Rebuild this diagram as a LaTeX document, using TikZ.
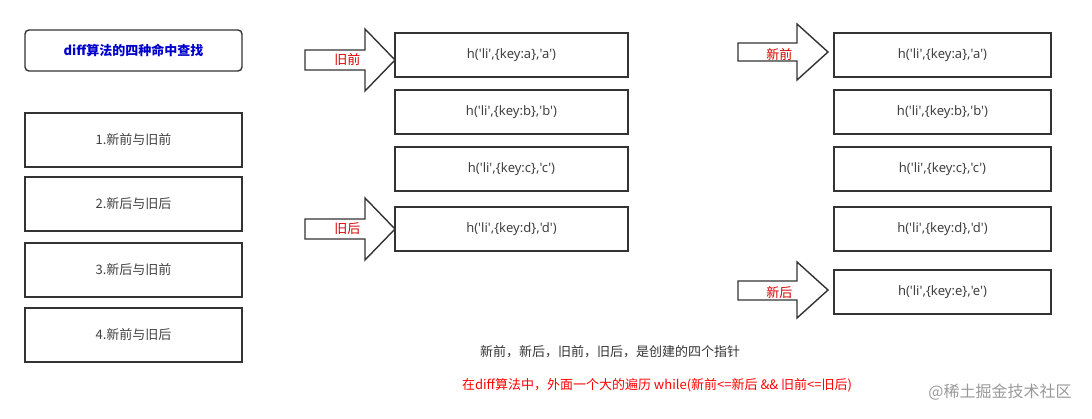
\documentclass[tikz,border=0pt]{standalone}
\usepackage{fontspec}
\setmainfont{Noto Sans CJK SC}
\newfontfamily\latinf{Noto Sans}
\newcommand{\qq}{{\latinf\char"27}}
\newcommand{\hli}[1]{{\latinf h(\qq li\qq,\{key:#1\},\qq #1\qq)}}
\begin{document}
\begin{tikzpicture}[x=1pt,y=-1pt,
  box/.style={draw=black!80,line width=1.4pt,minimum height=44pt,inner sep=0pt,font=\fontsize{13}{15}\selectfont,text=black!75},
  lbox/.style={box,minimum width=217pt,minimum height=54pt},
  mbox/.style={box,minimum width=233pt},
  rbox/.style={box,minimum width=217pt},
  arr/.style={draw=black!80,line width=1.4pt,fill=white},
  albl/.style={font=\fontsize{13}{15}\selectfont,text=red!85!black}]
\useasboundingbox (0,0) rectangle (1092,419);
\node[box,rounded corners=4pt,minimum width=217pt,minimum height=41pt,text=blue!80!black,font=\bfseries\fontsize{13}{15}\selectfont] (t) at (133.5,50.5) {diff算法的四种命中查找};
\node[lbox] (l1) at (133.5,140) {1.新前与旧前};
\node[lbox] (l2) at (133.5,204) {2.新后与旧后};
\node[lbox] (l3) at (133.5,270) {3.新后与旧前};
\node[lbox] (l4) at (133.5,335) {4.新前与旧后};
\node[mbox] (m1) at (511.5,55) {\hli{a}};
\node[mbox] (m2) at (511.5,112) {\hli{b}};
\node[mbox] (m3) at (511.5,169) {\hli{c}};
\node[mbox] (m4) at (511.5,229) {\hli{d}};
\node[rbox] (r1) at (942.5,55) {\hli{a}};
\node[rbox] (r2) at (942.5,112) {\hli{b}};
\node[rbox] (r3) at (942.5,169) {\hli{c}};
\node[rbox] (r4) at (942.5,229) {\hli{d}};
\node[rbox] (r5) at (942.5,292) {\hli{e}};
% arrows
\draw[arr] (305,50) -- (365,50) -- (365,29) -- (395,60) -- (365,91) -- (365,70) -- (305,70) -- cycle;
\node[albl,anchor=east] (a1) at (364,60) {旧前};
\draw[arr] (305,219) -- (365,219) -- (365,198) -- (395,229) -- (365,260) -- (365,239) -- (305,239) -- cycle;
\node[albl,anchor=east] (a2) at (364,229) {旧后};
\draw[arr] (738,43) -- (797,43) -- (797,24) -- (828,52) -- (797,80) -- (797,61) -- (738,61) -- cycle;
\node[albl,anchor=east] (a3) at (796,55) {新前};
\draw[arr] (738,281) -- (797,281) -- (797,262) -- (828,290) -- (797,318) -- (797,300) -- (738,300) -- cycle;
\node[albl,anchor=east] (a4) at (796,293) {新后};
\node[font=\fontsize{13}{15}\selectfont,text=black!80] (n1) at (610,352) {新前，新后，旧前，旧后，是创建的四个指针};
\node[font=\fontsize{13}{15}\selectfont,text=red] (n2) at (657,385) {在diff算法中，外面一个大的遍历 while(新前<=新后 \&\& 旧前<=旧后)};
\node[font=\fontsize{16}{18}\selectfont,text=black!40] (w) at (1000,392) {@稀土掘金技术社区};
\end{tikzpicture}
\end{document}
